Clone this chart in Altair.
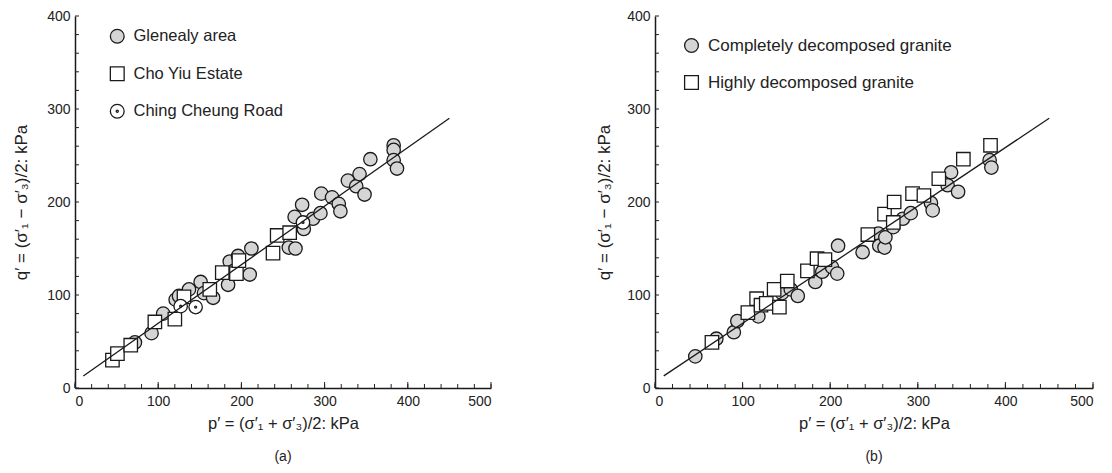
import altair as alt
import pandas as pd

# ---------------- data: panel (a) ----------------
gl_p = [72, 92, 106, 121, 125, 137, 151, 155, 166, 184, 186, 191, 196, 210, 212,
        257, 265, 264, 273, 275, 286, 295, 296, 309, 317, 319, 328, 338, 342, 348,
        355, 383, 383, 383, 387]
gl_q = [49, 59, 80, 95, 99, 106, 114, 102, 97, 111, 136, 126, 142, 122, 150,
        151, 150, 184, 197, 171, 182, 188, 209, 205, 198, 190, 223, 217, 230, 208,
        246, 261, 256, 245, 236]
cy_p = [45, 51, 67, 96, 120, 131, 162, 177, 194, 197, 238, 243, 258]
cy_q = [30, 37, 46, 71, 74, 98, 106, 124, 123, 137, 145, 164, 167]
cc_p = [127, 145, 274]
cc_q = [88, 87, 178]

# ---------------- data: panel (b) ----------------
cdg_p = [46, 70, 90, 94, 118, 145, 155, 163, 183, 191, 202, 208, 209, 237, 255,
         256, 262, 263, 272, 283, 292, 315, 317, 334, 338, 346, 382, 384]
cdg_q = [34, 53, 60, 72, 77, 102, 106, 99, 114, 125, 130, 123, 153, 146, 166,
         153, 151, 162, 173, 182, 188, 199, 191, 218, 232, 211, 245, 237]
hdg_p = [65, 106, 116, 121, 127, 136, 142, 151, 174, 185, 194, 243, 262, 272,
         273, 294, 307, 324, 352, 383]
hdg_q = [49, 81, 96, 89, 91, 106, 87, 115, 126, 139, 138, 165, 187, 178,
         200, 209, 207, 225, 246, 261]

# fitted line
line_p = [10, 450]
line_q = [13, 290]

# axis ticks
major_ticks_x = [0, 100, 200, 300, 400, 500]
major_ticks_y = [0, 100, 200, 300, 400]
minor_ticks_x = list(range(0, 501, 20))
minor_ticks_y = list(range(0, 401, 20))

cats_a = ["Glenealy area", "Cho Yiu Estate", "Ching Cheung Road"]
cats_b = ["Completely decomposed granite", "Highly decomposed granite"]

H = 372
FONT = "Liberation Sans"
NARROW = "Liberation Sans Narrow, Liberation Sans"
INK = "#1a1a1a"

CIRCLE_DOT = ("M-1,0A1,1,0,1,1,1,0A1,1,0,1,1,-1,0Z"
              "M-0.15,0A0.15,0.15,0,1,1,0.15,0A0.15,0.15,0,1,1,-0.15,0Z")


def frame(pairs):
    rows = []
    for cat, ps, qs in pairs:
        for p, q in zip(ps, qs):
            rows.append({"p": p, "q": q, "cat": cat})
    return pd.DataFrame(rows)


df_a = frame([(cats_a[0], gl_p, gl_q), (cats_a[1], cy_p, cy_q), (cats_a[2], cc_p, cc_q)])
df_b = frame([(cats_b[0], cdg_p, cdg_q), (cats_b[1], hdg_p, hdg_q)])
df_line = pd.DataFrame({"p": line_p, "q": line_q})
df_tx = pd.DataFrame({"p": minor_ticks_x})
df_txm = pd.DataFrame({"p": major_ticks_x})
df_ty = pd.DataFrame({"q": minor_ticks_y})

XT = "p\u2032 = (\u03c3\u2032\u2081 + \u03c3\u2032\u2083)/2: kPa"
YT = "q\u2032 = (\u03c3\u2032\u2081 \u2212 \u03c3\u2032\u2083)/2: kPa"

xscale = alt.Scale(domain=[0, 500], nice=False)
yscale = alt.Scale(domain=[0, 400], nice=False)


def panel(df, cats, shapes, fills, caption, W, lx, ly, rowpad, laboff, ytpad, lfs):
    main_x = alt.Axis(values=major_ticks_x, ticks=False, grid=False, domain=True,
                      domainColor=INK, domainWidth=1.5, labelFont=FONT,
                      labelFontSize=14, labelColor="#222", labelPadding=6,
                      title=XT, titleFont=NARROW, titleFontSize=16.5,
                      titleFontWeight="normal", titleColor="#222", titlePadding=7)
    main_y = alt.Axis(values=major_ticks_y, ticks=False, grid=False, domain=True,
                      domainColor=INK, domainWidth=1.5, labelFont=FONT,
                      labelFontSize=14, labelColor="#222", labelPadding=5,
                      title=YT, titleFont=NARROW, titleFontSize=17,
                      titleFontWeight="normal", titleColor="#222", titlePadding=ytpad)
    X = alt.X("p:Q", scale=xscale, axis=main_x, title=XT)
    Y = alt.Y("q:Q", scale=yscale, axis=main_y, title=YT)
    legend = alt.Legend(orient="none", legendX=lx, legendY=ly, title=None,
                        labelFont=FONT, labelFontSize=lfs, labelColor="#222",
                        labelLimit=500, symbolSize=190, symbolStrokeWidth=1.3,
                        rowPadding=rowpad, labelOffset=laboff, padding=0)
    pts = alt.Chart(df).mark_point(filled=True, strokeWidth=1.3, size=180,
                                   opacity=1).encode(
        x=X, y=Y,
        shape=alt.Shape("cat:N", scale=alt.Scale(domain=cats, range=shapes), legend=legend),
        fill=alt.Fill("cat:N", scale=alt.Scale(domain=cats, range=fills), legend=legend),
        stroke=alt.Stroke("cat:N", scale=alt.Scale(domain=cats, range=[INK] * len(cats)),
                          legend=legend),
    )
    ln = alt.Chart(df_line).mark_line(color=INK, strokeWidth=1.3).encode(x=X, y=Y)
    xticks = alt.Chart(df_tx).mark_rule(color="#222", strokeWidth=1).encode(
        x=X, y=alt.value(H), y2=alt.value(H - 4),
    )
    xticks_major = alt.Chart(df_txm).mark_rule(color="#222", strokeWidth=1).encode(
        x=X, y=alt.value(H), y2=alt.value(H - 6),
    )
    yticks = alt.Chart(df_ty).mark_rule(color="#222", strokeWidth=1).encode(
        y=Y, x=alt.value(0), x2=alt.value(4),
    )
    return alt.layer(pts, ln, xticks, xticks_major, yticks).properties(
        width=W, height=H,
        title=alt.TitleParams(caption, orient="bottom", font=FONT, fontSize=14,
                              fontWeight="normal", color="#222", offset=18),
    )


left = panel(df_a, cats_a, ["circle", "square", CIRCLE_DOT],
             ["#d5d5d5", "#ffffff", "#ffffff"], "(a)", 416, 34, 12, 17.5, 8, 16, 16.5)
right = panel(df_b, cats_b, ["circle", "square"], ["#d5d5d5", "#ffffff"],
              "(b)", 438, 28, 21, 18, 8, 13, 17)

chart = alt.hconcat(left, right, spacing=103).resolve_scale(
    shape="independent", fill="independent", stroke="independent"
).resolve_legend(shape="independent", fill="independent", stroke="independent").properties(
    padding={"left": 4, "top": 1, "right": 0, "bottom": 0},
    background="white",
).configure_view(strokeWidth=0)

chart.save("out.html", embed_options={"renderer": "svg", "actions": False})
